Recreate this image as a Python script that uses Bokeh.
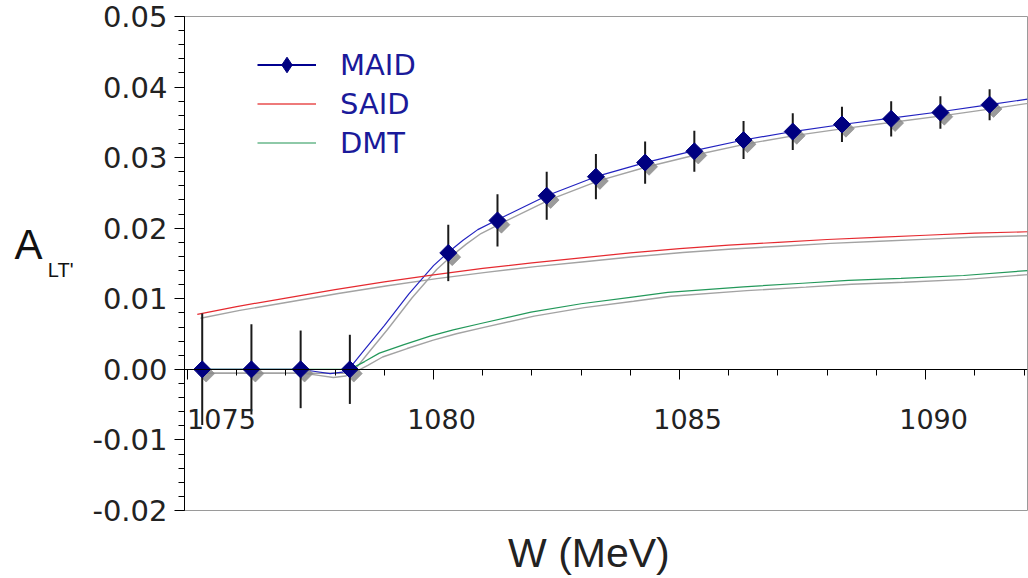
import math
from bokeh.plotting import figure
from bokeh.models import (Range1d, FixedTicker, PrintfTickFormatter, ColumnDataSource,
                          Legend, LegendItem, LabelSet, LinearAxis)
from bokeh.transform import dodge
from bokeh.core.properties import value
from bokeh.embed import file_html
from bokeh.resources import INLINE

# ---------------- data ----------------
w_data = [1075.3, 1076.3, 1077.3, 1078.3, 1080.3, 1081.3, 1082.3, 1083.3,
          1084.3, 1085.3, 1086.3, 1087.3, 1088.3, 1089.3, 1090.3, 1091.3]
a_data = [0.0000, 0.0000, 0.0000, 0.0000, 0.0165, 0.0211, 0.0246, 0.0273,
          0.0293, 0.0309, 0.0325, 0.0337, 0.0347, 0.0355, 0.0364, 0.0375]
a_err = [0.0079, 0.0064, 0.0055, 0.0049, 0.0040, 0.0037, 0.0034, 0.0032,
         0.0030, 0.0029, 0.0027, 0.0026, 0.0025, 0.0025, 0.0023, 0.0022]

w_maid = [1075.2, 1076.3, 1077.3, 1077.6, 1077.9, 1078.15, 1078.3, 1078.6, 1079.0,
          1079.5, 1080.0, 1080.3, 1080.6, 1080.9, 1081.3, 1082.3, 1083.3, 1084.3,
          1085.3, 1086.3, 1087.3, 1088.3, 1089.3, 1090.3, 1091.3, 1092.07]
a_maid = [0.0, 0.0, 0.0, -0.0003, -0.0006, -0.0004, 0.0002, 0.0028, 0.0062,
          0.0107, 0.0147, 0.0166, 0.0183, 0.0198, 0.0212, 0.0246, 0.0273, 0.0293,
          0.0310, 0.0325, 0.0337, 0.0347, 0.0356, 0.0365, 0.0375, 0.0383]

w_said = [1075.2, 1076.0, 1077.0, 1078.0, 1079.0, 1080.0, 1081.0, 1082.0, 1083.0,
          1084.0, 1085.0, 1086.0, 1087.0, 1088.0, 1089.0, 1090.0, 1091.0, 1092.07]
a_said = [0.0078, 0.0089, 0.0101, 0.0113, 0.0124, 0.0134, 0.0143, 0.0151, 0.0158,
          0.0165, 0.0171, 0.0176, 0.0180, 0.0184, 0.0187, 0.0190, 0.0193, 0.0195]

w_dmt = [1075.2, 1076.3, 1077.3, 1078.3, 1078.6, 1078.9, 1079.4, 1079.93, 1080.4,
         1080.96, 1081.98, 1083.0, 1084.0, 1084.76, 1086.3, 1087.5, 1088.43,
         1089.5, 1090.77, 1092.07]
a_dmt = [0.0, 0.0, 0.0, 0.0, 0.0011, 0.0023, 0.0035, 0.0047, 0.0056,
         0.0065, 0.0081, 0.0093, 0.0102, 0.0109, 0.0117, 0.0122, 0.0126,
         0.0129, 0.0133, 0.0140]

y_ticks = [-0.02, -0.01, 0.0, 0.01, 0.02, 0.03, 0.04, 0.05]
x_ticks = [1075, 1080, 1085, 1090]
x_tick_labels = ["1075", "1080", "1085", "1090"]
x_minor = list(range(1075, 1093))
y_minor = [round(-0.02 + 0.002 * i, 3) for i in range(36)]

series_names = ["MAID", "SAID", "DMT"]
x_title = "W (MeV)"
y_title_main, y_title_sub = "A", "LT'"

# ---------------- styles ----------------
FONT = "DejaVu Sans"
FONT2 = "Liberation Sans"
NBSP = "\u00a0"
SH_DX, SH_DY = 0.065, -0.00055        # line shadow offset (~3px right, ~4px down)
SHADOW = "#a3a3a3"
C_MAID, C_SAID, C_DMT = "#2323c0", "#e52a30", "#23985a"
X0, X1, Y0, Y1 = 1074.94, 1092.07, -0.02, 0.05
x_label_dx = [34, 8, 8, 8]             # pixel nudges of the x tick labels (first kept inside frame)

p = figure(width=1028, height=578, output_backend="svg", toolbar_location=None,
           x_range=Range1d(X0, X1), y_range=Range1d(Y0, Y1),
           min_border_left=184, min_border_right=1, min_border_top=16,
           min_border_bottom=66)
p.grid.visible = False
p.outline_line_color = "#9a9a9a"
p.outline_line_width = 1
p.background_fill_color = "white"
p.border_fill_color = "white"

# y axis
ya = p.yaxis[0]
ya.ticker = FixedTicker(ticks=y_ticks, minor_ticks=y_minor)
ya.formatter = PrintfTickFormatter(format="%.2f")
ya.major_label_text_font = FONT
ya.major_label_text_font_size = "29px"
ya.major_label_text_color = "#222222"
ya.major_label_standoff = 7
ya.major_tick_out = 10
ya.major_tick_in = 0
ya.minor_tick_out = 6
ya.minor_tick_in = 0
ya.axis_line_color = "black"
ya.major_tick_line_color = "black"
ya.minor_tick_line_color = "black"

# y title "A" with subscript "LT'" as horizontal labels of two bare axes
# (a blank second line nudges each text up / down from the axis centre)
ax_sub = LinearAxis(ticker=FixedTicker(ticks=[]),
                    axis_label=NBSP + "\n" + y_title_sub, axis_label_orientation="horizontal",
                    axis_label_standoff=16, axis_label_text_font=FONT2,
                    axis_label_text_font_size="20px", axis_label_text_font_style="normal",
                    axis_label_text_line_height=0.58,
                    axis_label_text_color="#111111", axis_line_color=None,
                    major_tick_out=0, minor_tick_out=0, major_label_standoff=0)
ax_main = LinearAxis(ticker=FixedTicker(ticks=[]),
                     axis_label=y_title_main + "\n" + NBSP, axis_label_orientation="horizontal",
                     axis_label_standoff=2, axis_label_text_font=FONT2,
                     axis_label_text_font_size="42px", axis_label_text_font_style="normal",
                     axis_label_text_line_height=0.81,
                     axis_label_text_color="#111111", axis_line_color=None,
                     major_tick_out=0, minor_tick_out=0, major_label_standoff=0)
p.add_layout(ax_sub, "left")
p.add_layout(ax_main, "left")

# x axis at y = 0
xa = p.xaxis[0]
xa.fixed_location = 0
xa.ticker = FixedTicker(ticks=x_ticks, minor_ticks=x_minor)
xa.major_label_overrides = {t: "" for t in x_ticks}
xa.major_tick_out = 10
xa.major_tick_in = 0
xa.minor_tick_out = 6
xa.minor_tick_in = 0
xa.axis_line_color = "black"
xa.major_tick_line_color = "black"
xa.minor_tick_line_color = "black"

src_xl = ColumnDataSource(dict(x=x_ticks, y=[0] * len(x_ticks), t=x_tick_labels,
                               dx=x_label_dx))
p.add_layout(LabelSet(x="x", y="y", text="t", source=src_xl, x_offset="dx", y_offset=-40,
                      text_font=value(FONT), text_font_size=value("27px"),
                      text_color="#222222", text_align="center", text_baseline="top"))

# x title as the label of a bare axis below the frame (trailing blanks shift it left)
ax_w = LinearAxis(ticker=FixedTicker(ticks=[]),
                  axis_label=x_title + NBSP * 3, axis_label_standoff=19,
                  axis_label_text_font=FONT2, axis_label_text_font_size="41px",
                  axis_label_text_font_style="normal", axis_label_text_color="#222222",
                  axis_line_color=None, major_tick_out=0, minor_tick_out=0,
                  major_label_standoff=0)
p.add_layout(ax_w, "below")

src_pts = ColumnDataSource(dict(x=w_data, y=a_data,
                                lo=[a - e for a, e in zip(a_data, a_err)],
                                hi=[a + e for a, e in zip(a_data, a_err)]))
src_maid = ColumnDataSource(dict(x=w_maid, y=a_maid))
src_said = ColumnDataSource(dict(x=w_said, y=a_said))
src_dmt = ColumnDataSource(dict(x=w_dmt, y=a_dmt))

# shadows
for src in (src_said, src_dmt, src_maid):
    p.line(x=dodge("x", SH_DX), y=dodge("y", SH_DY), source=src,
           line_color=SHADOW, line_width=1.4)

# curves
p.line("x", "y", source=src_maid, line_color=C_MAID, line_width=1.2)
p.line("x", "y", source=src_said, line_color=C_SAID, line_width=1.2)
p.line("x", "y", source=src_dmt, line_color=C_DMT, line_width=1.2)

# marker shadows, error bars, markers
p.scatter(x=dodge("x", 0.08), y=dodge("y", -0.0006), source=src_pts,
          marker="square", angle=math.pi / 4, size=12,
          fill_color="#8a8a8a", line_color="#8a8a8a", fill_alpha=0.85, line_alpha=0.6)
p.segment(x0="x", y0="lo", x1="x", y1="hi", source=src_pts,
          line_color="#1a1a1a", line_width=2)
p.scatter("x", "y", source=src_pts, marker="square", angle=math.pi / 4, size=12,
          fill_color="#000080", line_color="#000080")

# legend-only glyphs (no visible data)
NAN = [float("nan")]
lg_maid_l = p.line(x=NAN, y=NAN, line_color="#000090", line_width=2)
lg_maid_m = p.scatter(x=NAN, y=NAN, marker="diamond", size=12,
                      fill_color="#000080", line_color="#000080")
lg_said = p.line(x=NAN, y=NAN, line_color="#ee7a7a", line_width=2)
lg_dmt = p.line(x=NAN, y=NAN, line_color="#8ec9a8", line_width=2)

legend = Legend(items=[LegendItem(label=series_names[0], renderers=[lg_maid_l, lg_maid_m]),
                       LegendItem(label=series_names[1], renderers=[lg_said]),
                       LegendItem(label=series_names[2], renderers=[lg_dmt])],
                location=(73, 348), orientation="vertical",
                glyph_width=59, glyph_height=39, label_height=39, spacing=0,
                padding=0, margin=0, label_standoff=24,
                border_line_color=None, background_fill_alpha=0,
                label_text_font=FONT, label_text_font_size="29px",
                label_text_color="#1a1a9a")
p.add_layout(legend)

open("out.html", "w").write(file_html(p, INLINE))
